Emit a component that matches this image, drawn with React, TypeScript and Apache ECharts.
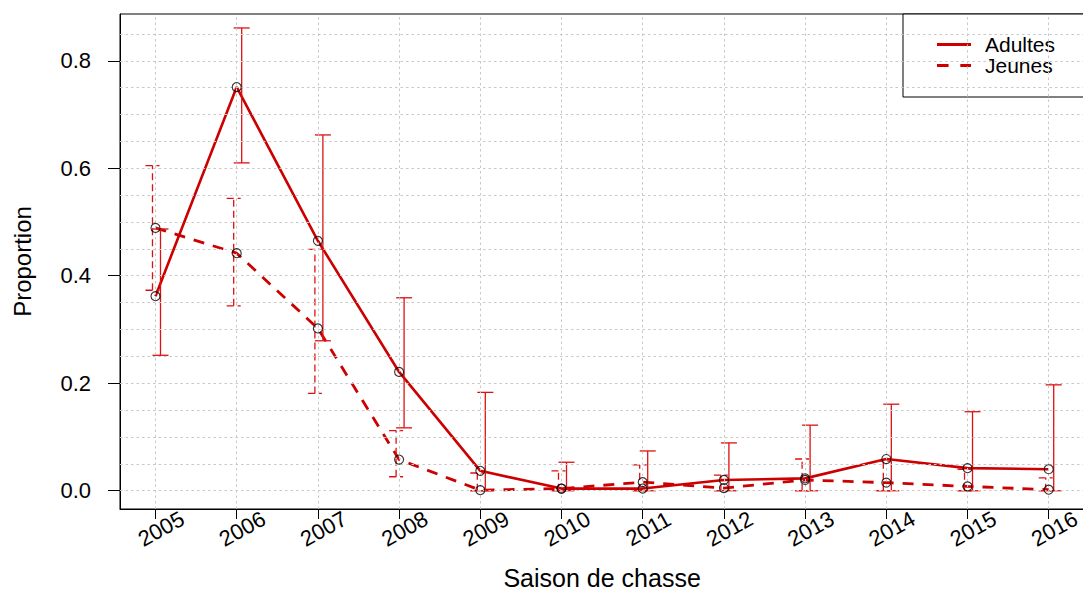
import React, { useEffect, useRef } from "react";
import * as echarts from "echarts";

const years = ["2005", "2006", "2007", "2008", "2009", "2010", "2011", "2012", "2013", "2014", "2015", "2016"];
const yearIdx = [0, 1, 2, 3, 4, 5, 6, 7, 8, 9, 10, 11];

const adultes = [0.362, 0.751, 0.465, 0.221, 0.037, 0.004, 0.004, 0.020, 0.023, 0.059, 0.042, 0.040];
const adultesLow = [0.252, 0.610, 0.279, 0.117, 0.0, 0.0, 0.0, 0.0, 0.0, 0.0, 0.0, 0.0];
const adultesHigh = [0.487, 0.861, 0.662, 0.359, 0.183, 0.053, 0.074, 0.089, 0.122, 0.161, 0.147, 0.197];

const jeunes = [0.489, 0.442, 0.302, 0.058, 0.001, 0.004, 0.016, 0.005, 0.020, 0.015, 0.008, 0.002];
const jeunesLow = [0.373, 0.344, 0.181, 0.026, 0.0, 0.0, 0.0, 0.0, 0.0, 0.0, 0.0, 0.0];
const jeunesHigh = [0.605, 0.544, 0.449, 0.112, 0.033, 0.037, 0.048, 0.029, 0.059, 0.055, 0.040, 0.024];

const yTicks = [0, 0.2, 0.4, 0.6, 0.8];
const yGrid = [0, 0.05, 0.1, 0.15, 0.2, 0.25, 0.3, 0.35, 0.4, 0.45, 0.5, 0.55, 0.6, 0.65, 0.7, 0.75, 0.8, 0.85];

const RED = "#cc0000";
const RED_BAR = "#dd1111";
const FONT = "Liberation Sans, Arial, sans-serif";

function makeErr(offset: number, half: number, dash: number[] | null) {
  return (params: any, api: any) => {
    const x = api.value(0);
    const lo = api.value(1);
    const hi = api.value(2);
    const pLo = api.coord([x, lo]);
    const pHi = api.coord([x, hi]);
    const cx = pLo[0] + offset;
    const style: any = { stroke: RED_BAR, lineWidth: 1.3, fill: "none" };
    if (dash) style.lineDash = dash;
    return {
      type: "group",
      children: [
        { type: "line", shape: { x1: cx, y1: pLo[1], x2: cx, y2: pHi[1] }, style },
        { type: "line", shape: { x1: cx - half, y1: pHi[1], x2: cx + half, y2: pHi[1] }, style },
        { type: "line", shape: { x1: cx - half, y1: pLo[1], x2: cx + half, y2: pLo[1] }, style },
      ],
    };
  };
}

export default function App() {
  const ref = useRef<HTMLDivElement>(null);
  useEffect(() => {
    if (!ref.current) return;
    const chart = echarts.init(ref.current, undefined, { renderer: "svg" });
    const pointStyle = { color: "rgba(0,0,0,0)", borderColor: "#000", borderWidth: 1.1 };
    const option: any = {
      animation: false,
      backgroundColor: "#fff",
      textStyle: { fontFamily: FONT, color: "#000" },
      grid: {
        left: 120,
        top: 14,
        width: 964.2,
        height: 495,
        containLabel: false,
        outerBoundsMode: "none",
        show: true,
        borderColor: "#000",
        borderWidth: 1,
        backgroundColor: "transparent",
      },
      legend: {
        orient: "vertical",
        left: 903,
        top: 14,
        padding: [20, 40, 21, 34],
        itemGap: 0,
        itemWidth: 34,
        itemHeight: 3,
        borderColor: "#000",
        borderWidth: 1,
        backgroundColor: "#fff",
        selectedMode: false,
        itemStyle: { color: RED, borderWidth: 0 },
        textStyle: { fontSize: 21, color: "#000", fontFamily: FONT, lineHeight: 21, padding: [0, 0, 0, 9] },
        data: [
          { name: "Adultes", icon: "path://M0,0H34V3H0Z" },
          { name: "Jeunes", icon: "path://M0,0H11.6V3H0Z M23.3,0H34V3H23.3Z" },
        ],
      },
      xAxis: {
        type: "value",
        min: -0.437,
        max: 11.437,
        name: "Saison de chasse",
        nameLocation: "middle",
        nameGap: 59,
        nameTextStyle: { fontSize: 25, lineHeight: 20, color: "#000", fontFamily: FONT },
        axisLine: { show: true, onZero: false, lineStyle: { color: "#000", width: 1 } },
        axisTick: { show: true, length: 10, customValues: yearIdx, lineStyle: { color: "#000", width: 1 } },
        axisLabel: {
          customValues: yearIdx,
          interval: 0,
          hideOverlap: false,
          rotate: 29,
          align: "center",
          verticalAlign: "middle",
          margin: 23,
          padding: [0, 0, 0, 13],
          fontSize: 22,
          color: "#000",
          fontFamily: FONT,
          formatter: (v: number) => years[Math.round(v)] ?? "",
        },
        splitLine: { show: false },
      },
      yAxis: {
        type: "value",
        min: -0.034,
        max: 0.887,
        name: "Proportion",
        nameLocation: "middle",
        nameRotate: 90,
        nameGap: 86,
        nameTextStyle: { fontSize: 24, color: "#000", fontFamily: FONT },
        axisLine: { show: true, onZero: false, lineStyle: { color: "#000", width: 1 } },
        axisTick: { show: true, length: 12, customValues: yTicks, lineStyle: { color: "#000", width: 1 } },
        axisLabel: {
          customValues: yTicks,
          margin: 29,
          fontSize: 22,
          color: "#000",
          fontFamily: FONT,
          formatter: (v: number) => v.toFixed(1),
        },
        splitLine: { show: false },
      },
      series: [
        {
          name: "grid",
          type: "line",
          data: [],
          z: 1,
          silent: true,
          markLine: {
            silent: true,
            symbol: ["none", "none"],
            label: { show: false },
            lineStyle: { color: "#c8c8c8", type: [2.5, 3], width: 1 },
            emphasis: { disabled: true },
            data: [
              ...yGrid.map((v) => ({ yAxis: v })),
              ...yearIdx.map((i) => ({ xAxis: i })),
            ],
          },
        },
        {
          name: "Adultes",
          type: "line",
          color: RED,
          z: 3,
          showSymbol: false,
          symbol: "none",
          lineStyle: { color: RED, width: 2.6, type: "solid" },
          itemStyle: { color: RED },
          data: yearIdx.map((i) => [i, adultes[i]]),
        },
        {
          name: "Jeunes",
          type: "line",
          color: RED,
          z: 3,
          showSymbol: false,
          symbol: "none",
          lineStyle: { color: RED, width: 2.8, type: [11, 9] },
          itemStyle: { color: RED },
          data: yearIdx.map((i) => [i, jeunes[i]]),
        },
        {
          name: "errA",
          type: "custom",
          z: 4,
          silent: true,
          renderItem: makeErr(5, 8, null),
          data: yearIdx.map((i) => [i, adultesLow[i], adultesHigh[i]]),
        },
        {
          name: "errJ",
          type: "custom",
          z: 4,
          silent: true,
          renderItem: makeErr(-3, 7, [7, 4]),
          data: yearIdx.map((i) => [i, jeunesLow[i], jeunesHigh[i]]),
        },
        {
          name: "ptsA",
          type: "scatter",
          z: 5,
          symbol: "circle",
          symbolSize: 9,
          itemStyle: pointStyle,
          data: yearIdx.map((i) => [i, adultes[i]]),
        },
        {
          name: "ptsJ",
          type: "scatter",
          z: 5,
          symbol: "circle",
          symbolSize: 9,
          itemStyle: pointStyle,
          data: yearIdx.map((i) => [i, jeunes[i]]),
        },
      ],
    };
    chart.setOption(option);
    return () => chart.dispose();
  }, []);
  return (
    <div
      ref={ref}
      style={{ position: "fixed", left: 0, top: 0, width: 1083, height: 591, background: "#fff" }}
    />
  );
}
